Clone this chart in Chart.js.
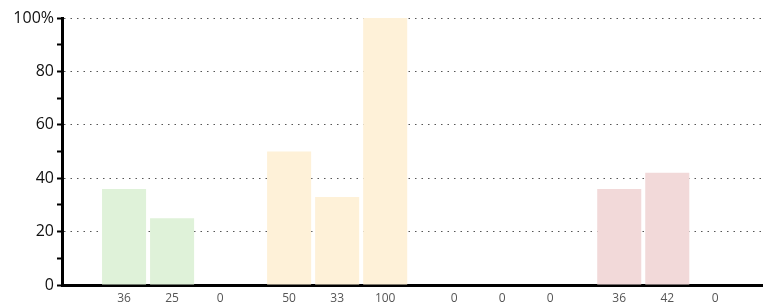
<!DOCTYPE html>
<html>
<head>
<meta charset="utf-8">
<script src="https://cdn.jsdelivr.net/npm/chart.js@4/dist/chart.umd.min.js"></script>
<style>
  html, body { margin: 0; padding: 0; background: #fff; }
  #wrap { width: 763px; height: 306px; position: relative; }
</style>
</head>
<body>
<div id="wrap"><canvas id="c" width="763" height="306"></canvas></div>
<script>
// Group positions (4 groups of 3 bars)
const groups = [1, 2, 3, 4];
const groupColors = ['#dff2d9', '#fef1d8', '#e8e8e8', '#f2d9d9'];
const seriesA = [36, 50, 0, 36];
const seriesB = [25, 33, 0, 42];
const seriesC = [0, 100, 0, 0];
const yTickValues = [0, 20, 40, 60, 80, 100];

function toPoints(vals) { return vals.map((v, i) => ({ x: groups[i], y: v })); }

const valueLabels = {
  id: 'valueLabels',
  afterDraw(chart) {
    const ctx = chart.ctx;
    const yPos = chart.chartArea.bottom + 14;
    ctx.save();
    ctx.font = '12px "Open Sans", sans-serif';
    ctx.fillStyle = '#555';
    ctx.textAlign = 'center';
    ctx.textBaseline = 'middle';
    chart.data.datasets.forEach((ds, di) => {
      const meta = chart.getDatasetMeta(di);
      meta.data.forEach((el, i) => {
        ctx.fillText(String(ds.data[i].y), el.x, yPos);
      });
    });
    ctx.restore();
  }
};

const mk = (vals) => ({
  data: toPoints(vals),
  backgroundColor: groupColors,
  borderWidth: 0,
  barPercentage: 0.917,
  categoryPercentage: 0.873
});

new Chart(document.getElementById('c'), {
  type: 'bar',
  data: { datasets: [mk(seriesA), mk(seriesB), mk(seriesC)] },
  plugins: [valueLabels],
  options: {
    responsive: false,
    animation: false,
    layout: { padding: { top: 18, right: 0, left: 0, bottom: 0 } },
    plugins: { legend: { display: false }, tooltip: { enabled: false } },
    scales: {
      x: {
        type: 'linear',
        offset: false,
        min: 0.333,
        max: 4.58,
        afterBuildTicks(s) { s.ticks = groups.map(v => ({ value: v })); },
        ticks: { display: false },
        grid: { display: false, drawTicks: false, offset: false },
        border: { display: true, color: '#000', width: 3 },
        afterFit(s) { s.height = 21; }
      },
      y: {
        min: 0,
        max: 100,
        ticks: {
          stepSize: 10,
          autoSkip: false,
          padding: 3,
          color: '#111',
          font: { family: '"Open Sans", sans-serif', size: 16 },
          callback: (v) => (v === 100 ? '100%' : (yTickValues.includes(v) ? String(v) : ''))
        },
        grid: {
          color: (c) => (c.tick && yTickValues.includes(c.tick.value) && c.tick.value !== 0 ? '#555' : 'rgba(0,0,0,0)'),
          lineWidth: 1,
          tickColor: '#000',
          tickWidth: 2,
          tickLength: 5
        },
        border: { display: true, color: '#000', width: 3, dash: [1.5, 5] },
        afterFit(s) { s.width = 62; }
      }
    }
  }
});
</script>
</body>
</html>
